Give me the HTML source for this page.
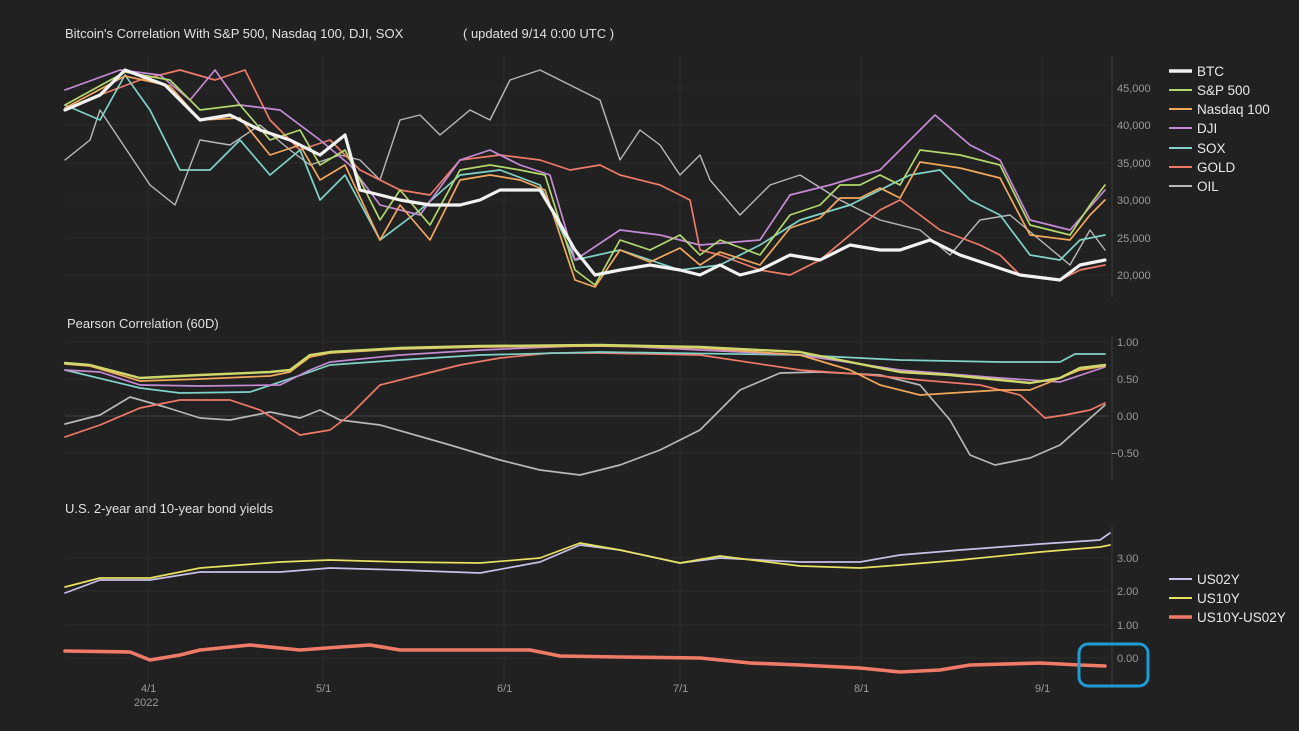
<!DOCTYPE html>
<html><head><meta charset="utf-8"><style>
body{margin:0;background:#212121;}
svg{display:block;font-family:"Liberation Sans","DejaVu Sans",sans-serif;}
.t{fill:#e0e0e0;font-size:13px}
.tk{fill:#9a9a9a;font-size:11px}
.lg{fill:#e8e8e8;font-size:13.5px}
.g{stroke:#2a2a2a;stroke-width:1}
polyline{fill:none;stroke-linejoin:round;stroke-linecap:round}
</style></head><body>
<svg width="1299" height="731" viewBox="0 0 1299 731">
<rect width="1299" height="731" fill="#212121"/>
<text class="t" x="65" y="38">Bitcoin's Correlation With S&amp;P 500, Nasdaq 100, DJI, SOX</text>
<text class="t" x="463" y="38">( updated 9/14 0:00 UTC )</text>
<text class="t" x="67" y="328">Pearson Correlation (60D)</text>
<text class="t" x="65" y="513">U.S. 2-year and 10-year bond yields</text>
<g class="g">
<line x1="65" y1="88" x2="1110" y2="88"/><line x1="65" y1="125" x2="1110" y2="125"/><line x1="65" y1="163" x2="1110" y2="163"/><line x1="65" y1="200" x2="1110" y2="200"/><line x1="65" y1="238" x2="1110" y2="238"/><line x1="65" y1="275" x2="1110" y2="275"/>
<line x1="65" y1="342" x2="1110" y2="342"/><line x1="65" y1="379" x2="1110" y2="379"/><line x1="65" y1="453" x2="1110" y2="453"/>
<line x1="65" y1="558" x2="1110" y2="558"/><line x1="65" y1="591" x2="1110" y2="591"/><line x1="65" y1="625" x2="1110" y2="625"/><line x1="65" y1="658" x2="1110" y2="658"/>
<line x1="148" y1="55" x2="148" y2="685"/><line x1="323" y1="55" x2="323" y2="685"/><line x1="504" y1="55" x2="504" y2="685"/><line x1="680" y1="55" x2="680" y2="685"/><line x1="861" y1="55" x2="861" y2="685"/><line x1="1042" y1="55" x2="1042" y2="685"/>
</g>
<line x1="65" y1="416" x2="1110" y2="416" stroke="#444"/>
<g stroke="#3a3a3a"><line x1="1112" y1="55" x2="1112" y2="298"/><line x1="1112" y1="335" x2="1112" y2="480"/><line x1="1112" y1="525" x2="1112" y2="685"/></g>
<g class="tk">
<text x="1117" y="92">45,000</text><text x="1117" y="129">40,000</text><text x="1117" y="167">35,000</text><text x="1117" y="204">30,000</text><text x="1117" y="242">25,000</text><text x="1117" y="279">20,000</text>
<text x="1117" y="346">1.00</text><text x="1117" y="383">0.50</text><text x="1117" y="420">0.00</text><text x="1111" y="457">−0.50</text>
<text x="1117" y="562">3.00</text><text x="1117" y="595">2.00</text><text x="1117" y="629">1.00</text><text x="1117" y="662">0.00</text>
<text x="141" y="692">4/1</text><text x="134" y="706">2022</text><text x="316" y="692">5/1</text><text x="497" y="692">6/1</text><text x="673" y="692">7/1</text><text x="854" y="692">8/1</text><text x="1035" y="692">9/1</text>
</g>
<g stroke-width="1.7">
<polyline stroke="#b8b8b8" stroke-width="1.4" points="65,160 90,140 100,110 130,155 150,185 175,205 200,140 230,145 260,125 290,150 310,165 340,155 360,160 380,180 400,120 420,115 440,135 470,110 490,120 510,80 540,70 570,85 600,100 620,160 640,130 660,145 680,175 700,155 710,180 740,215 770,185 800,175 840,200 880,220 920,230 950,255 980,220 1010,215 1040,240 1070,265 1090,230 1105,250"/>
<polyline stroke="#f07a68" points="65,110 100,95 140,80 180,70 215,80 245,70 270,120 300,150 330,140 360,170 400,190 430,195 460,160 500,155 540,160 570,170 600,165 620,175 660,185 690,200 700,250 720,255 760,270 790,275 820,260 850,235 880,210 900,200 940,230 980,245 1000,255 1020,275 1060,280 1080,270 1105,265"/>
<polyline stroke="#7fd3c8" points="65,105 100,120 125,75 150,110 180,170 210,170 240,140 270,175 300,150 320,200 345,175 380,240 420,210 460,175 500,170 540,185 575,260 620,250 680,270 720,265 760,245 800,220 850,205 880,190 910,175 940,170 970,200 1000,215 1030,255 1060,260 1080,240 1105,235"/>
<polyline stroke="#c58ad6" points="65,90 120,70 160,75 190,100 215,70 240,105 280,110 320,140 350,165 380,205 420,215 460,160 490,150 520,165 550,175 575,260 620,230 660,235 700,245 760,240 790,195 830,185 880,170 910,140 935,115 970,145 1000,160 1030,220 1070,230 1105,190"/>
<polyline stroke="#f2a85c" points="65,108 125,76 170,86 200,120 240,118 270,155 300,145 320,180 345,165 380,240 400,205 430,240 460,180 490,175 520,180 545,190 575,280 595,287 620,250 650,262 680,248 700,265 720,252 760,265 790,228 820,218 840,198 860,198 880,188 900,198 920,162 960,168 1000,178 1030,235 1070,240 1090,215 1105,200"/>
<polyline stroke="#b3d86a" points="65,105 125,72 170,80 200,110 240,105 270,140 300,130 320,165 345,150 380,220 400,190 430,225 460,170 490,165 520,170 545,175 575,270 595,285 620,240 650,250 680,235 700,255 720,240 760,255 790,215 820,205 840,185 860,185 880,175 900,185 920,150 960,155 1000,165 1030,225 1070,235 1090,205 1105,185"/>
<polyline stroke="#f2f2f2" stroke-width="3.2" points="65,110 100,95 125,70 165,85 200,120 230,115 260,130 290,140 320,155 345,135 360,190 380,195 400,200 430,205 460,205 480,200 500,190 540,190 555,215 575,250 595,275 620,270 650,265 680,270 700,275 720,265 740,275 760,270 790,255 820,260 850,245 880,250 900,250 930,240 960,255 990,265 1020,275 1060,280 1080,265 1105,260"/>
<polyline stroke="#b8b8b8" points="65,424 100,415 130,397 165,407 200,418 230,420 270,412 300,418 320,410 340,420 380,425 450,445 500,460 540,470 580,475 620,465 660,450 700,430 740,390 780,373 820,372 880,375 920,385 950,420 970,455 995,465 1030,458 1060,445 1105,405"/>
<polyline stroke="#f07a68" points="65,437 100,425 140,408 180,400 230,400 260,410 300,435 330,430 350,415 380,385 420,375 460,365 500,358 550,353 600,353 700,355 800,370 870,375 920,380 980,385 1020,395 1045,418 1065,415 1090,410 1105,403"/>
<polyline stroke="#7fd3c8" points="65,370 140,388 180,393 250,392 310,372 330,365 400,360 480,355 600,352 800,355 900,360 1000,362 1060,362 1075,354 1105,354"/>
<polyline stroke="#c58ad6" points="65,370 100,372 140,385 200,386 280,385 310,370 330,362 400,355 480,350 600,345 800,355 900,370 1000,378 1060,382 1105,367"/>
<polyline stroke="#f2a85c" points="65,364 90,366 140,381 200,379 270,376 290,372 310,357 330,353 400,349 480,347 600,346 700,348 800,355 850,370 880,385 920,395 1000,390 1030,390 1060,378 1080,370 1105,366"/>
<polyline stroke="#cfd86a" stroke-width="2.4" points="65,363 90,365 140,378 200,375 270,372 290,370 310,355 330,352 400,348 480,346 600,345 700,347 800,352 850,362 900,372 950,375 1000,380 1030,383 1060,378 1080,368 1105,365"/>
<polyline stroke="#c8c0e8" points="65,593 100,580 150,580 200,572 280,572 330,568 400,570 480,573 540,562 580,545 620,550 680,563 720,558 800,562 860,562 900,555 960,550 1040,544 1100,540 1110,533"/>
<polyline stroke="#e8e060" points="65,587 100,578 150,578 200,568 280,562 330,560 400,562 480,563 540,558 580,543 620,550 680,563 720,556 800,566 860,568 900,565 960,560 1040,552 1100,547 1110,545"/>
<polyline stroke="#f07a68" stroke-width="3.6" points="65,651 130,652 150,660 180,655 200,650 250,645 300,650 340,647 370,645 400,650 480,650 530,650 560,656 620,657 700,658 750,663 800,665 860,668 900,672 940,670 970,665 1040,663 1080,665 1105,666"/>
</g>
<rect x="1079" y="644" width="69" height="42" rx="9" fill="none" stroke="#1e9bd7" stroke-width="3"/>
<g stroke-width="2">
<line x1="1169" y1="71" x2="1192" y2="71" stroke="#f2f2f2" stroke-width="3.5"/>
<line x1="1169" y1="90" x2="1192" y2="90" stroke="#b3d86a"/>
<line x1="1169" y1="109" x2="1192" y2="109" stroke="#f2a85c"/>
<line x1="1169" y1="128" x2="1192" y2="128" stroke="#c58ad6"/>
<line x1="1169" y1="148" x2="1192" y2="148" stroke="#7fd3c8"/>
<line x1="1169" y1="167" x2="1192" y2="167" stroke="#f07a68"/>
<line x1="1169" y1="186" x2="1192" y2="186" stroke="#b8b8b8"/>
<line x1="1169" y1="579" x2="1192" y2="579" stroke="#c8c0e8"/>
<line x1="1169" y1="598" x2="1192" y2="598" stroke="#e8e060"/>
<line x1="1169" y1="617" x2="1192" y2="617" stroke="#f07a68" stroke-width="3.5"/>
</g>
<g class="lg">
<text x="1197" y="76">BTC</text><text x="1197" y="95">S&amp;P 500</text><text x="1197" y="114">Nasdaq 100</text><text x="1197" y="133">DJI</text><text x="1197" y="153">SOX</text><text x="1197" y="172">GOLD</text><text x="1197" y="191">OIL</text>
<text x="1197" y="584">US02Y</text><text x="1197" y="603">US10Y</text><text x="1197" y="622">US10Y-US02Y</text>
</g>
</svg>
</body></html>
